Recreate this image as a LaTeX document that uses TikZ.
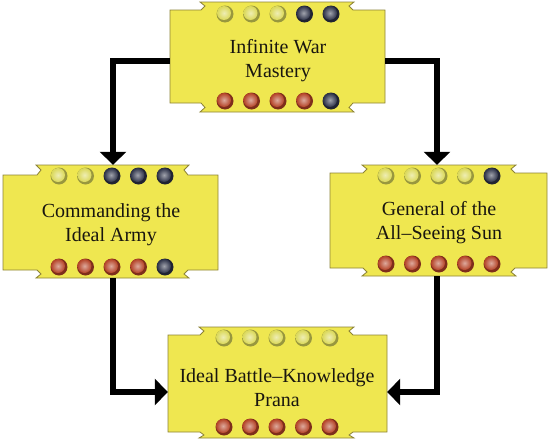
\documentclass[tikz,border=0pt]{standalone}
\usepackage{fontspec}
\setmainfont{Liberation Serif}
\usetikzlibrary{arrows.meta}
\definecolor{boxy}{RGB}{239,231,80}
\definecolor{boxedge}{RGB}{140,130,55}
\definecolor{dy}{RGB}{218,216,88}
\definecolor{dr}{RGB}{180,66,38}
\definecolor{dk}{RGB}{45,50,72}
\definecolor{inkc}{RGB}{25,22,15}
\newcommand{\ribbonbox}[9]{%
  \filldraw[fill=boxy,draw=boxedge,line width=0.8pt]
    (#2,#4) -- (#6,#4) -- ({#6+4},{(#4+#8)/2}) -- ({#6-1},#8) -- ({#7+1},#8)
    -- ({#7-4},{(#4+#8)/2}) -- (#7,#4) -- (#3,#4) -- (#3,#5) -- (#7,#5)
    -- ({#7-4},{(#5+#9)/2}) -- ({#7+1},#9) -- ({#6-1},#9) -- ({#6+4},{(#5+#9)/2})
    -- (#6,#5) -- (#2,#5) -- cycle;
}
\newcommand{\dotrow}[3]{%
  \foreach \c [count=\i from -2] in {#3} {%
    \fill[\c!70!black] ({#1+\i*26.5},#2) circle[radius=8.5pt];
    \shade[inner color=\c!45!white,outer color=\c] ({#1+\i*26.5-1},{#2-1}) circle[radius=7pt];
  }%
}
\tikzset{
  boxnode/.style={inner sep=0pt},
  boxtext/.style={align=center,text=inkc,font=\fontsize{20}{24}\selectfont,inner sep=0pt},
  arr/.style={line width=6pt,-{Triangle[width=26pt,length=13pt]}}
}
\begin{document}
\begin{tikzpicture}[x=1pt,y=-1pt]
\useasboundingbox (0,0) rectangle (552,442);
% top box
\ribbonbox{t}{170}{385}{10}{103}{201}{353}{2}{112}
\node[boxnode,minimum width=215pt,minimum height=110pt] (top) at (277.5,57) {};
\node[boxtext] (toptext) at (278,60.5) {Infinite War\\Mastery};
\dotrow{278}{14}{dy,dy,dy,dk,dk}
\dotrow{278}{101}{dr,dr,dr,dr,dk}
% left box
\ribbonbox{l}{3}{218}{175}{270}{37}{188}{165}{278}
\node[boxnode,minimum width=215pt,minimum height=113pt] (left) at (110.5,221.5) {};
\node[boxtext] (lefttext) at (111,224.5) {Commanding the\\Ideal Army};
\dotrow{112}{176}{dy,dy,dk,dk,dk}
\dotrow{112}{267}{dr,dr,dr,dr,dk}
% right box
\ribbonbox{r}{330}{547}{173}{268}{363}{515}{165}{276}
\node[boxnode,minimum width=217pt,minimum height=111pt] (right) at (438.5,220.5) {};
\node[boxtext] (righttext) at (439,222.5) {General of the\\All--Seeing Sun};
\dotrow{439}{176}{dy,dy,dy,dy,dk}
\dotrow{439}{264}{dr,dr,dr,dr,dr}
% bottom box
\ribbonbox{b}{168}{387}{335}{432}{200}{353}{327}{438}
\node[boxnode,minimum width=219pt,minimum height=111pt] (bottom) at (277.5,385.5) {};
\node[boxtext] (bottomtext) at (277,387.5) {Ideal Battle--Knowledge\\Prana};
\dotrow{277}{338}{dy,dy,dy,dy,dy}
\dotrow{277}{427}{dr,dr,dr,dr,dr}
% connectors
\draw[arr] ([yshift=-4pt]top.west) -| ([xshift=2.5pt]left.north);
\draw[arr] ([yshift=-4pt]top.east) -| ([xshift=-1.5pt]right.north);
\draw[arr] ([xshift=2.5pt]left.south) |- ([yshift=-6.5pt]bottom.west);
\draw[arr] ([xshift=-1.5pt]right.south) |- ([yshift=-6.5pt]bottom.east);
\end{tikzpicture}
\end{document}
